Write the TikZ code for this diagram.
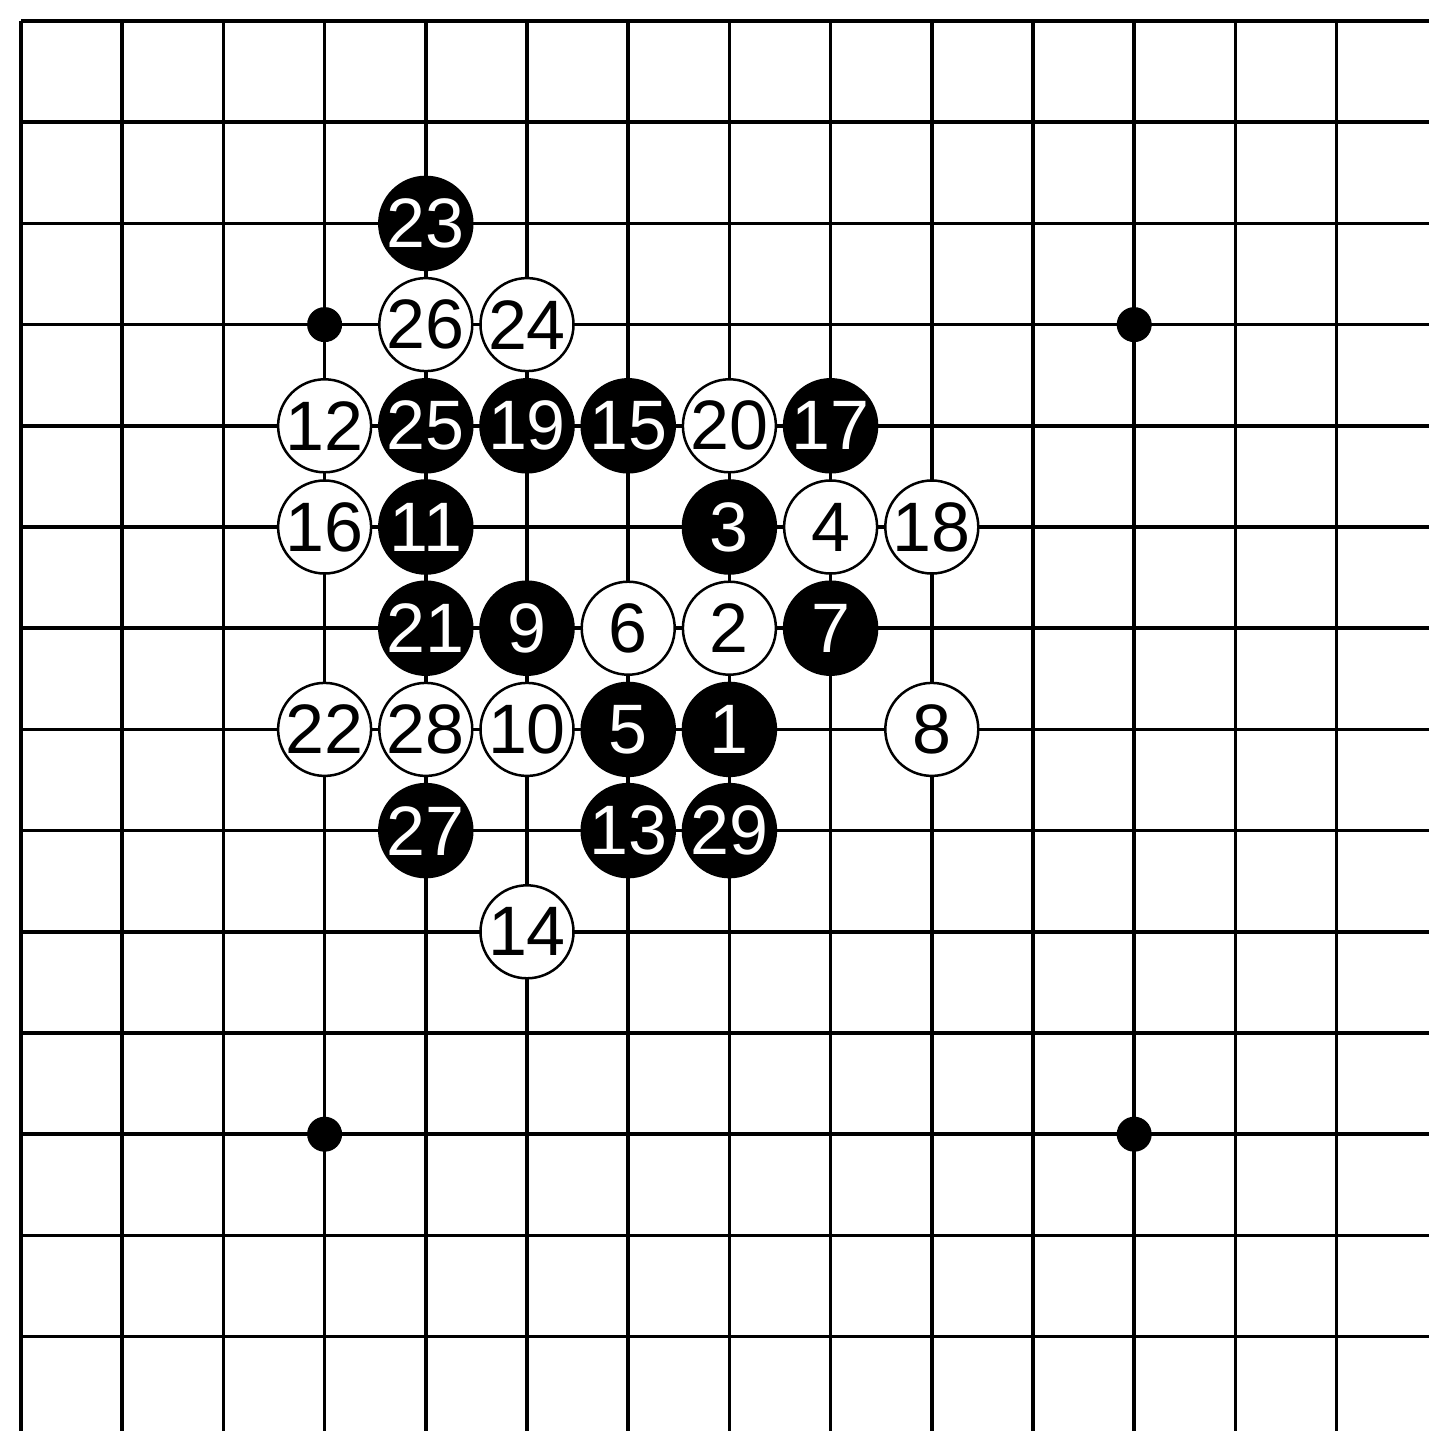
\documentclass[tikz,border=0pt]{standalone}
\usepackage{fontspec}
\setmainfont{Liberation Sans}
\begin{document}
\begin{tikzpicture}[x=1pt,y=-1pt,
  gridline/.style={line width=3.5pt,black},
  stonebase/.style={circle,minimum size=93pt,inner sep=0pt,line width=2.5pt,draw=black,
     font=\fontsize{70}{70}\selectfont},
  wstone/.style={stonebase,fill=white,text=black},
  bstone/.style={stonebase,fill=black,text=white},
  hoshi/.style={circle,fill=black,minimum size=35pt,inner sep=0pt}]
\def\g{101.2}
\useasboundingbox[fill=white] (0,0) rectangle (1429,1431);
% grid
\foreach \i in {0,...,13}{
  \draw[gridline] ({21+\g*\i},21) -- ({21+\g*\i},1431);
  \draw[gridline] (21,{21+\g*\i}) -- (1429,{21+\g*\i});
}
% star points
\node[hoshi] (h1) at ({21+\g*3},{21+\g*3}) {};
\node[hoshi] (h2) at ({21+\g*11},{21+\g*3}) {};
\node[hoshi] (h3) at ({21+\g*3},{21+\g*11}) {};
\node[hoshi] (h4) at ({21+\g*11},{21+\g*11}) {};
% stones: column, row
\foreach \c/\r/\n in {7/7/1,7/5/3,6/7/5,8/6/7,5/6/9,4/5/11,6/8/13,6/4/15,8/4/17,5/4/19,4/6/21,4/2/23,4/4/25,4/8/27,7/8/29}{
  \node[bstone] (s\n) at ({21+\g*\c},{21+\g*\r}) {\n};
}
\foreach \c/\r/\n in {7/6/2,8/5/4,6/6/6,9/7/8,5/7/10,3/4/12,5/9/14,3/5/16,9/5/18,7/4/20,3/7/22,5/3/24,4/3/26,4/7/28}{
  \node[wstone] (s\n) at ({21+\g*\c},{21+\g*\r}) {\n};
}
\end{tikzpicture}
\end{document}
